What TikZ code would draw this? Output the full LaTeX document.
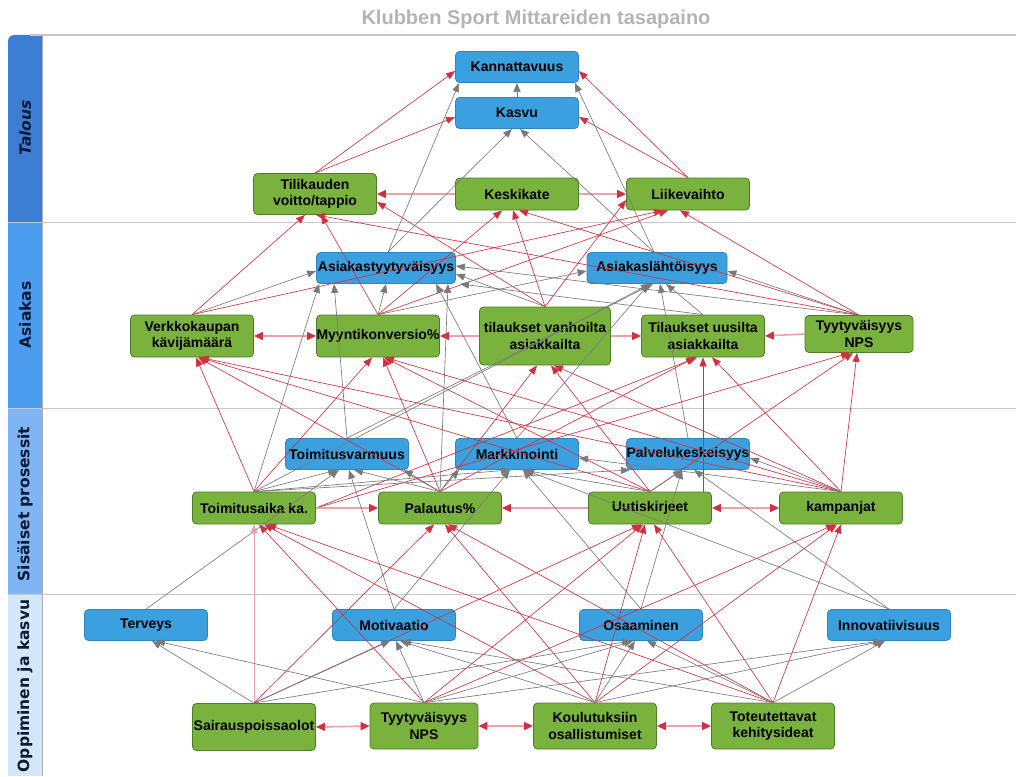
\documentclass[tikz,border=0pt]{standalone}
\usepackage{fontspec}
\setmainfont{Liberation Sans}
\newfontfamily\lanefont{DejaVu Sans}
\usetikzlibrary{arrows.meta}
\definecolor{bluefill}{HTML}{3BA0DF}
\definecolor{blueline}{HTML}{2F85BE}
\definecolor{greenfill}{HTML}{7AB23E}
\definecolor{greenline}{HTML}{4E7D28}
\definecolor{redE}{HTML}{D3303F}
\definecolor{grayE}{HTML}{7A7A7A}
\definecolor{laneA}{HTML}{3D7DD3}
\definecolor{laneB}{HTML}{4C9CF0}
\definecolor{laneC}{HTML}{7EB5F2}
\definecolor{laneD}{HTML}{D4E6FA}
\definecolor{sepline}{HTML}{C8C8C8}
\definecolor{titlegray}{HTML}{B4B4B4}
\definecolor{lanetext}{HTML}{0E1A33}
\begin{document}
\begin{tikzpicture}[x=1pt,y=-1pt,
  box/.style={rounded corners=4pt, draw, line width=0.8pt, align=center,
    font=\fontsize{14}{16.5}\selectfont\bfseries, inner sep=0pt, text=black},
  bluebox/.style={box, fill=bluefill, draw=blueline, minimum width=123pt, minimum height=31pt},
  greenbox/.style={box, fill=greenfill, draw=greenline, minimum width=123pt, minimum height=32pt},
  rl/.style={draw=redE, line width=0.65pt, -{Triangle[length=9pt,width=7pt]}},
  gl/.style={draw=grayE, line width=0.65pt, -{Triangle[length=9pt,width=7pt]}},
  hr/.style={draw=redE!45, line width=1.6pt, -{Triangle[length=9pt,width=8pt,color=redE]}},
  hrr/.style={draw=redE!45, line width=1.6pt, {Triangle[length=9pt,width=8pt,color=redE]}-{Triangle[length=9pt,width=8pt,color=redE]}},
  lanelabel/.style={rotate=90, text=lanetext, font=\lanefont\bfseries\fontsize{15.5}{15.5}\selectfont}
]
\useasboundingbox (0,0) rectangle (1016,776);
% title
\node[font=\fontsize{20}{20}\selectfont\bfseries, text=titlegray] (title) at (536,19) {Klubben Sport Mittareiden tasapaino};
% lane bars
\fill[laneA, rounded corners=6pt] (8,35) rectangle (42,222);
\fill[laneA] (8,60) rectangle (42,222);
\fill[laneA] (25,35) rectangle (42,222);
\fill[laneB] (8,222) rectangle (42,408);
\fill[laneC] (8,408) rectangle (42,594);
\fill[laneD] (8,594) rectangle (42,776);
\draw[sepline, line width=1.6pt] (30,35) -- (1016,35);
\draw[sepline, line width=1pt] (8,222) -- (1016,222);
\draw[sepline, line width=1pt] (8,408) -- (1016,408);
\draw[sepline, line width=1pt] (8,594) -- (1016,594);
\draw[grayE!60, line width=0.6pt] (42,35) -- (42,776);
\node[lanelabel, font=\lanefont\bfseries\itshape\fontsize{15.5}{15.5}\selectfont] (lt) at (25,128) {Talous};
\node[lanelabel] (la) at (25,315) {Asiakas};
\node[lanelabel] (ls) at (25,504) {Sisäiset prosessit};
\node[lanelabel] (lo) at (25,686) {Oppiminen ja kasvu};
% nodes
\node[bluebox] (kann) at (517,67) {Kannattavuus};
\node[bluebox] (kasvu) at (517,113) {Kasvu};
\node[greenbox, minimum height=41pt] (tili) at (315,194) {Tilikauden\\voitto/tappio};
\node[greenbox] (kesk) at (517,194) {Keskikate};
\node[greenbox] (liike) at (688,194) {Liikevaihto};
\node[bluebox, minimum width=139pt] (atyyt) at (386,268) {Asiakastyytyväisyys};
\node[bluebox, minimum width=140pt] (alaht) at (657,268) {Asiakaslähtöisyys};
\node[greenbox, minimum height=42pt] (verk) at (192,336) {Verkkokaupan\\kävijämäärä};
\node[greenbox, minimum height=42pt] (myyn) at (378,336) {Myyntikonversio\%};
\node[greenbox, minimum width=131pt, minimum height=58pt] (tvan) at (545,336) {tilaukset vanhoilta\\asiakkailta};
\node[greenbox, minimum height=42pt] (tuus) at (703,336) {Tilaukset uusilta\\asiakkailta};
\node[greenbox, minimum width=108pt, minimum height=37pt] (nps) at (859,334) {Tyytyväisyys\\NPS};
\node[bluebox] (tvar) at (347,454) {Toimitusvarmuus};
\node[bluebox] (mark) at (517,454) {Markkinointi};
\node[bluebox] (palv) at (688,454) {Palvelukeskeisyys};
\node[greenbox] (ta) at (254,508) {Toimitusaika ka.};
\node[greenbox] (pal) at (440,508) {Palautus\%};
\node[greenbox] (uut) at (650,508) {Uutiskirjeet};
\node[greenbox] (kamp) at (841,508) {kampanjat};
\node[bluebox] (terv) at (146,625) {Terveys};
\node[bluebox] (moti) at (394,625) {Motivaatio};
\node[bluebox] (osaa) at (641,625) {Osaaminen};
\node[bluebox] (innov) at (889,625) {Innovatiivisuus};
\node[greenbox, minimum height=47pt] (sair) at (254,727) {Sairauspoissaolot};
\node[greenbox, minimum width=108pt, minimum height=46pt] (nps2) at (424,726) {Tyytyväisyys\\NPS};
\node[greenbox, minimum height=46pt] (koul) at (595,726) {Koulutuksiin\\osallistumiset};
\node[greenbox, minimum height=46pt] (tot) at (773,726) {Toteutettavat\\kehitysideat};
% ---- Talous
\draw[gl] (kasvu.north) -- (kann.south);
\draw[rl] (tili.north) -- ([yshift=-4pt]kann.west);
\draw[rl] (tili.north) -- ([yshift=-4pt]kasvu.west);
\draw[rl] (liike.north) -- ([yshift=-4pt]kann.east);
\draw[rl] (liike.north) -- ([yshift=-4pt]kasvu.east);
\draw[hr] (kesk.west) -- (tili.east);
\draw[hr] (kesk.east) -- (liike.west);
\draw[gl] ([xshift=2pt]atyyt.north) -- ([xshift=4pt]kann.south west);
\draw[gl] ([xshift=-3pt]alaht.north) -- ([xshift=-4pt]kann.south east);
\draw[gl] ([xshift=2pt]atyyt.north) -- ([xshift=-5pt]kasvu.south);
\draw[gl] ([xshift=-3pt]alaht.north) -- ([xshift=3pt]kasvu.south);
% ---- Asiakas -> Talous
\draw[rl] (verk.north) -- ([xshift=-10pt]tili.south);
\draw[rl] (verk.north) -- ([xshift=-25pt]liike.south);
\draw[rl] (myyn.north) -- ([xshift=6pt]tili.south);
\draw[rl] (myyn.north) -- ([xshift=-15pt]kesk.south);
\draw[rl] (myyn.north) -- ([xshift=-20pt]liike.south);
\draw[rl] (tvan.north) -- ([yshift=-8pt]tili.east);
\draw[rl] (tvan.north) -- ([xshift=-4pt]kesk.south);
\draw[rl] (tvan.north) -- ([yshift=-6pt]liike.west);
\draw[rl] (nps.north) -- ([xshift=1pt]tili.south);
\draw[rl] (nps.north) -- ([xshift=2pt]kesk.south);
\draw[rl] (nps.north) -- ([xshift=-8pt]liike.south);
% ---- Asiakas internal
\draw[hrr] (verk.east) -- (myyn.west);
\draw[hr] (tvan.west) -- (myyn.east);
\draw[hr] (tvan.east) -- (tuus.west);
\draw[hr] (nps.west) -- (tuus.east);
\draw[gl] (verk.north) -- ([yshift=-3pt]atyyt.west);
\draw[gl] (myyn.north) -- (atyyt.south);
\draw[gl] (myyn.north) -- ([yshift=-3pt]alaht.west);
\draw[gl] (tuus.north) -- ([xshift=9pt]alaht.south);
\draw[gl] (tuus.north) -- ([xshift=4pt]atyyt.south east);
\draw[gl] (tvan.north) -- ([yshift=-6pt]atyyt.east);
\draw[gl] (nps.north) -- ([yshift=-3pt]alaht.east);
\draw[gl] (nps.north) -- ([yshift=2pt]atyyt.east);
% ---- Sisaiset -> Asiakas blue
\draw[gl] (ta.north) -- ([xshift=3pt]atyyt.south west);
\draw[gl] (tvar.north) -- ([xshift=-52pt]atyyt.south);
\draw[gl] (pal.north) -- ([xshift=62pt]atyyt.south);
\draw[gl] (mark.north) -- ([xshift=50pt]atyyt.south);
\draw[gl] (mark.north) -- ([xshift=-8pt]alaht.south);
\draw[gl] (tvar.north) -- ([xshift=-4pt]alaht.south);
\draw[gl] (ta.north) -- ([xshift=-7pt]alaht.south);
\draw[gl] (palv.north) -- ([xshift=3pt]alaht.south);
% ---- Sisaiset green -> Asiakas green
\draw[rl] (ta.north) -- ([xshift=4pt]verk.south);
\draw[rl] (ta.north) -- ([xshift=-6pt]myyn.south);
\draw[rl] (ta.east) -- ([xshift=-9pt]nps.south);
\draw[rl] (ta.east) -- ([xshift=-6pt]tuus.south);
\draw[hr] (ta.east) -- (pal.west);
\draw[rl] (pal.north) -- ([xshift=6pt]verk.south);
\draw[rl] (pal.north) -- ([xshift=5pt]myyn.south);
\draw[rl] (pal.north) -- ([xshift=-8pt]tvan.south);
\draw[rl] (pal.north) -- ([xshift=-8pt]tuus.south);
\draw[rl] (uut.north) -- ([xshift=7pt]verk.south);
\draw[rl] (uut.north) -- ([xshift=6pt]myyn.south);
\draw[rl] (uut.north) -- ([xshift=6pt]tvan.south);
\draw[rl] ([xshift=53pt]uut.north) -- (tuus.south);
\draw[rl] (uut.north) -- ([xshift=-6pt]nps.south);
\draw[rl] (kamp.north) -- ([xshift=8pt]verk.south);
\draw[rl] (kamp.north) -- ([xshift=7pt]myyn.south);
\draw[rl] (kamp.north) -- ([xshift=9pt]tvan.south);
\draw[rl] (kamp.north) -- ([xshift=9pt]tuus.south);
\draw[rl] (kamp.north) -- ([xshift=-2pt]nps.south);
\draw[hr] (uut.west) -- (pal.east);
\draw[hrr] (uut.east) -- (kamp.west);
% ---- Sisaiset internal
\draw[gl] (ta.north) -- ([xshift=-10pt]tvar.south);
\draw[gl] (pal.north) -- ([xshift=-5pt]tvar.south east);
\draw[gl] (pal.north) -- ([xshift=7pt]tvar.south);
\draw[gl] (pal.north) -- ([xshift=4pt]mark.south west);
\draw[gl] (ta.north) -- ([xshift=-7pt]mark.south);
\draw[gl] (ta.north) -- ([xshift=4pt]palv.south west);
\draw[gl] (uut.north) -- ([xshift=5pt]mark.south);
\draw[gl] (uut.north) -- ([xshift=-6pt]palv.south);
\draw[gl] (kamp.north) -- ([yshift=-4pt]mark.east);
\draw[gl] (kamp.north) -- ([yshift=-4pt]palv.east);
% ---- Oppiminen -> Sisaiset
\draw[gl] (terv.north) -- ([xshift=-8pt]tvar.south);
\draw[gl] (moti.north) -- ([xshift=2pt]tvar.south);
\draw[gl] (moti.north) -- ([xshift=-7pt]mark.south);
\draw[gl] (osaa.north) -- ([xshift=6pt]mark.south);
\draw[gl] (osaa.north) -- ([xshift=-6pt]palv.south);
\draw[gl] (innov.north) -- ([xshift=8pt]mark.south);
\draw[gl] (innov.north) -- ([xshift=6pt]palv.south);
\draw[rl, draw=redE!45] (sair.north) -- (ta.south);
\draw[rl] (sair.north) -- ([xshift=-6pt]pal.south);
\draw[rl] (sair.north) -- ([xshift=-9pt]uut.south);
\draw[rl] (nps2.north) -- ([xshift=5pt]ta.south);
\draw[rl] (nps2.north) -- ([xshift=-7pt]uut.south);
\draw[rl] (nps2.north) -- ([xshift=-6pt]kamp.south);
\draw[rl] (koul.north) -- ([xshift=10pt]ta.south);
\draw[rl] (koul.north) -- ([xshift=5pt]pal.south);
\draw[rl] (koul.north) -- ([xshift=-5pt]uut.south);
\draw[rl] (koul.north) -- ([xshift=-4pt]kamp.south);
\draw[rl] (tot.north) -- ([xshift=13pt]ta.south);
\draw[rl] (tot.north) -- ([xshift=8pt]pal.south);
\draw[rl] (tot.north) -- ([xshift=4pt]uut.south);
\draw[rl] (tot.north) -- (kamp.south);
% ---- Oppiminen internal
\draw[gl] (sair.north) -- ([xshift=6pt]terv.south);
\draw[gl] (nps2.north) -- ([xshift=10pt]terv.south);
\draw[gl] (sair.north) -- ([xshift=-4pt]moti.south);
\draw[gl] (nps2.north) -- ([xshift=2pt]moti.south);
\draw[gl] (koul.north) -- ([xshift=6pt]moti.south);
\draw[gl] (tot.north) -- ([xshift=8pt]moti.south);
\draw[gl] (sair.north) -- ([xshift=-10pt]osaa.south);
\draw[gl] (nps2.north) -- ([xshift=-8pt]osaa.south);
\draw[gl] (koul.north) -- ([xshift=-6pt]osaa.south);
\draw[gl] (tot.north) -- ([xshift=6pt]osaa.south);
\draw[gl] (nps2.north) -- ([xshift=-7pt]innov.south);
\draw[gl] (koul.north) -- ([xshift=-6pt]innov.south);
\draw[gl] (tot.north) -- ([xshift=-4pt]innov.south);
\draw[hrr] (sair.east) -- (nps2.west);
\draw[hrr] (nps2.east) -- (koul.west);
\draw[hrr] (koul.east) -- (tot.west);
\end{tikzpicture}
\end{document}
